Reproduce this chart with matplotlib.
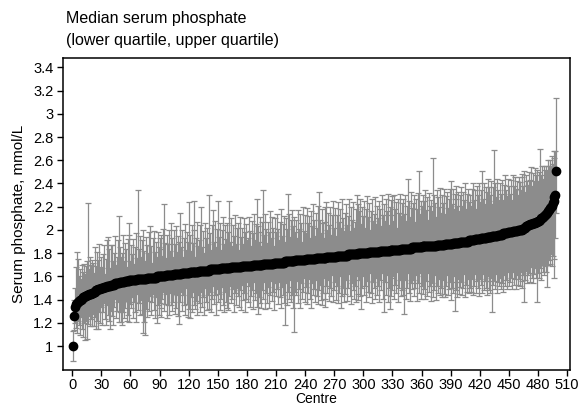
import matplotlib
matplotlib.use("Agg")
import matplotlib.pyplot as plt
import numpy as np

# median serum phosphate for each centre, sorted low to high (mmol/L)
median = ([1.00, 1.26, 1.34, 1.36, 1.37, 1.38, 1.39, 1.40, 1.40, 1.41,
           1.42, 1.42, 1.43, 1.43, 1.44, 1.44, 1.45, 1.45, 1.45, 1.46,
           1.46, 1.47, 1.47, 1.48, 1.48, 1.48, 1.49, 1.49, 1.49, 1.50,
           1.50, 1.50, 1.51, 1.51, 1.51, 1.52, 1.52, 1.52, 1.52, 1.53,
           1.53, 1.53, 1.53, 1.54, 1.54, 1.54, 1.54, 1.54, 1.55, 1.55,
           1.55, 1.55, 1.55, 1.56, 1.56, 1.56, 1.56, 1.56, 1.57, 1.57]
          + [1.57] * 6 + [1.58] * 10 + [1.59] * 10 + [1.60] * 10
          + [1.61] * 8 + [1.62] * 8 + [1.63] * 8
          + [1.64] * 10 + [1.65] * 11 + [1.66] * 11 + [1.67] * 11
          + [1.68] * 11 + [1.69] * 11 + [1.70] * 11 + [1.71] * 11
          + [1.72] * 11 + [1.73] * 11 + [1.74] * 11 + [1.75] * 10
          + [1.76] * 11 + [1.77] * 11 + [1.78] * 11 + [1.79] * 11
          + [1.80] * 11 + [1.81] * 11 + [1.82] * 11 + [1.83] * 11
          + [1.84] * 11 + [1.85] * 11 + [1.86] * 15
          + [1.87] * 8 + [1.88] * 8 + [1.89] * 8 + [1.90] * 9
          + [1.91] * 6 + [1.92] * 6 + [1.93] * 6 + [1.94] * 6
          + [1.95] * 6 + [1.96] * 5
          + [1.97] * 5 + [1.98] * 5 + [1.99] * 5 + [2.00] * 5
          + [2.01, 2.01, 2.02, 2.02, 2.03, 2.03, 2.04, 2.04, 2.05, 2.05,
             2.05, 2.06, 2.06, 2.06, 2.07, 2.07, 2.08, 2.08, 2.09, 2.10,
             2.10, 2.11, 2.12, 2.13, 2.14, 2.15, 2.16, 2.17, 2.19, 2.20,
             2.21, 2.23, 2.25, 2.28, 2.30, 2.51])

# distance from median up to the upper quartile
above = [
    0.13, 0.14, 0.16, 0.32, 0.44, 0.37, 0.21, 0.26, 0.18, 0.29,
    0.22, 0.29, 0.19, 0.26, 0.29, 0.79, 0.21, 0.32, 0.25, 0.28,
    0.26, 0.16, 0.38, 0.21, 0.13, 0.33, 0.25, 0.39, 0.19, 0.27,
    0.17, 0.29, 0.36, 0.11, 0.24, 0.39, 0.42, 0.32, 0.15, 0.34,
    0.34, 0.20, 0.27, 0.41, 0.16, 0.23, 0.37, 0.58, 0.30, 0.22,
    0.25, 0.41, 0.18, 0.33, 0.28, 0.12, 0.36, 0.50, 0.39, 0.16,
    0.30, 0.22, 0.35, 0.14, 0.28, 0.40, 0.18, 0.76, 0.26, 0.37,
    0.19, 0.33, 0.42, 0.24, 0.15, 0.36, 0.28, 0.21, 0.39, 0.44,
    0.27, 0.13, 0.34, 0.40, 0.22, 0.31, 0.17, 0.38, 0.25, 0.33,
    0.36, 0.24, 0.18, 0.41, 0.62, 0.29, 0.15, 0.35, 0.27, 0.39,
    0.21, 0.45, 0.32, 0.16, 0.38, 0.26, 0.41, 0.19, 0.33, 0.28,
    0.53, 0.23, 0.37, 0.14, 0.30, 0.42, 0.20, 0.35, 0.27, 0.61,
    0.32, 0.18, 0.40, 0.25, 0.61, 0.36, 0.13, 0.29, 0.43, 0.22,
    0.26, 0.39, 0.55, 0.20, 0.34, 0.15, 0.41, 0.28, 0.37, 0.23,
    0.65, 0.31, 0.17, 0.38, 0.51, 0.24, 0.42, 0.19, 0.35, 0.59,
    0.28, 0.40, 0.16, 0.33, 0.44, 0.21, 0.37, 0.25, 0.14, 0.39,
    0.31, 0.58, 0.23, 0.42, 0.18, 0.36, 0.27, 0.45, 0.20, 0.34,
    0.38, 0.15, 0.43, 0.26, 0.33, 0.19, 0.41, 0.29, 0.36, 0.22,
    0.24, 0.42, 0.30, 0.17, 0.39, 0.27, 0.44, 0.21, 0.35, 0.57,
    0.33, 0.20, 0.41, 0.28, 0.16, 0.37, 0.63, 0.25, 0.43, 0.30,
    0.18, 0.36, 0.27, 0.45, 0.22, 0.40, 0.31, 0.14, 0.38, 0.26,
    0.42, 0.29, 0.19, 0.35, 0.46, 0.23, 0.33, 0.40, 0.17, 0.37,
    0.28, 0.58, 0.41, 0.21, 0.36, 0.15, 0.44, 0.30, 0.38, 0.24,
    0.35, 0.19, 0.43, 0.27, 0.40, 0.32, 0.16, 0.46, 0.25, 0.39,
    0.22, 0.44, 0.31, 0.37, 0.18, 0.41, 0.28, 0.47, 0.34, 0.20,
    0.39, 0.26, 0.45, 0.57, 0.33, 0.21, 0.42, 0.30, 0.17, 0.44,
    0.31, 0.47, 0.23, 0.38, 0.27, 0.43, 0.19, 0.36, 0.48, 0.25,
    0.42, 0.18, 0.35, 0.46, 0.29, 0.40, 0.24, 0.49, 0.32, 0.21,
    0.37, 0.44, 0.26, 0.33, 0.48, 0.20, 0.41, 0.30, 0.45, 0.23,
    0.28, 0.39, 0.51, 0.43, 0.17, 0.36, 0.47, 0.25, 0.40, 0.32,
    0.45, 0.22, 0.38, 0.49, 0.31, 0.42, 0.19, 0.35, 0.46, 0.27,
    0.33, 0.47, 0.24, 0.40, 0.29, 0.44, 0.36, 0.21, 0.48, 0.31,
    0.40, 0.26, 0.45, 0.34, 0.49, 0.22, 0.38, 0.43, 0.30, 0.46,
    0.25, 0.47, 0.35, 0.41, 0.19, 0.44, 0.32, 0.48, 0.28, 0.39,
    0.43, 0.30, 0.46, 0.24, 0.37, 0.60, 0.41, 0.27, 0.49, 0.34,
    0.38, 0.45, 0.22, 0.42, 0.33, 0.47, 0.66, 0.29, 0.40, 0.36,
    0.44, 0.27, 0.39, 0.48, 0.31, 0.42, 0.23, 0.46, 0.35, 0.40,
    0.30, 0.76, 0.44, 0.37, 0.25, 0.47, 0.41, 0.33, 0.49, 0.28,
    0.43, 0.36, 0.48, 0.26, 0.41, 0.45, 0.31, 0.39, 0.47, 0.54,
    0.34, 0.46, 0.29, 0.42, 0.38, 0.49, 0.32, 0.44, 0.27, 0.40,
    0.47, 0.31, 0.43, 0.36, 0.50, 0.28, 0.41, 0.45, 0.33, 0.39,
    0.30, 0.44, 0.49, 0.35, 0.42, 0.26, 0.46, 0.38, 0.48, 0.32,
    0.41, 0.58, 0.34, 0.47, 0.29, 0.44, 0.39, 0.50, 0.31, 0.43,
    0.36, 0.48, 0.27, 0.42, 0.74, 0.45, 0.33, 0.49, 0.38, 0.30,
    0.44, 0.35, 0.47, 0.29, 0.42, 0.50, 0.37, 0.32, 0.46, 0.40,
    0.33, 0.45, 0.28, 0.48, 0.39, 0.47, 0.36, 0.43, 0.30, 0.46,
    0.41, 0.34, 0.46, 0.47, 0.37, 0.49, 0.31, 0.44, 0.39, 0.35,
    0.46, 0.38, 0.49, 0.33, 0.43, 0.36, 0.47, 0.40, 0.45, 0.34,
    0.42, 0.61, 0.37, 0.45, 0.33, 0.43, 0.39, 0.41, 0.36, 0.44,
    0.38, 0.41, 0.35, 0.43, 0.34, 0.43, 0.34, 0.38, 0.63,
]

# distance from median down to the lower quartile
below = [
    0.13, 0.12, 0.14, 0.20, 0.26, 0.16, 0.21, 0.30, 0.15, 0.26,
    0.34, 0.22, 0.38, 0.21, 0.38, 0.25, 0.19, 0.28, 0.22, 0.29,
    0.18, 0.30, 0.22, 0.33, 0.14, 0.26, 0.34, 0.20, 0.29, 0.16,
    0.32, 0.21, 0.14, 0.28, 0.33, 0.17, 0.25, 0.30, 0.37, 0.23,
    0.27, 0.35, 0.19, 0.13, 0.30, 0.24, 0.16, 0.33, 0.26, 0.34,
    0.37, 0.26, 0.31, 0.23, 0.17, 0.34, 0.29, 0.18, 0.36, 0.21,
    0.24, 0.15, 0.33, 0.19, 0.28, 0.36, 0.13, 0.27, 0.21, 0.31,
    0.18, 0.30, 0.47, 0.37, 0.48, 0.26, 0.34, 0.20, 0.29, 0.16,
    0.32, 0.21, 0.14, 0.28, 0.35, 0.17, 0.40, 0.25, 0.33, 0.23,
    0.27, 0.35, 0.19, 0.13, 0.30, 0.24, 0.16, 0.37, 0.26, 0.34,
    0.15, 0.26, 0.31, 0.23, 0.17, 0.34, 0.29, 0.18, 0.36, 0.43,
    0.24, 0.15, 0.33, 0.19, 0.28, 0.36, 0.13, 0.27, 0.38, 0.31,
    0.40, 0.22, 0.35, 0.17, 0.29, 0.14, 0.32, 0.25, 0.37, 0.20,
    0.28, 0.36, 0.18, 0.31, 0.23, 0.38, 0.15, 0.27, 0.34, 0.21,
    0.33, 0.19, 0.37, 0.25, 0.14, 0.30, 0.22, 0.39, 0.17, 0.28,
    0.21, 0.35, 0.26, 0.16, 0.32, 0.38, 0.20, 0.29, 0.13, 0.34,
    0.36, 0.24, 0.15, 0.31, 0.27, 0.19, 0.39, 0.22, 0.33, 0.18,
    0.25, 0.34, 0.20, 0.37, 0.16, 0.29, 0.23, 0.40, 0.28, 0.14,
    0.31, 0.17, 0.35, 0.26, 0.21, 0.38, 0.15, 0.30, 0.24, 0.36,
    0.42, 0.28, 0.19, 0.33, 0.37, 0.22, 0.30, 0.16, 0.39, 0.25,
    0.34, 0.20, 0.38, 0.27, 0.15, 0.32, 0.24, 0.41, 0.18, 0.29,
    0.23, 0.36, 0.17, 0.30, 0.39, 0.21, 0.28, 0.35, 0.55, 0.19,
    0.38, 0.26, 0.32, 0.16, 0.35, 0.29, 0.22, 0.40, 0.61, 0.27,
    0.30, 0.18, 0.37, 0.25, 0.41, 0.20, 0.33, 0.27, 0.15, 0.36,
    0.24, 0.39, 0.29, 0.17, 0.34, 0.42, 0.21, 0.31, 0.26, 0.37,
    0.19, 0.33, 0.40, 0.28, 0.23, 0.36, 0.41, 0.30, 0.17, 0.35,
    0.42, 0.25, 0.31, 0.20, 0.38, 0.27, 0.34, 0.16, 0.39, 0.29,
    0.22, 0.37, 0.26, 0.41, 0.32, 0.18, 0.45, 0.35, 0.28, 0.40,
    0.33, 0.21, 0.39, 0.29, 0.17, 0.36, 0.43, 0.25, 0.31, 0.38,
    0.27, 0.41, 0.19, 0.34, 0.40, 0.23, 0.37, 0.48, 0.30, 0.20,
    0.36, 0.28, 0.42, 0.24, 0.33, 0.39, 0.18, 0.35, 0.44, 0.26,
    0.31, 0.40, 0.22, 0.37, 0.29, 0.43, 0.25, 0.34, 0.19, 0.41,
    0.53, 0.27, 0.38, 0.21, 0.44, 0.32, 0.50, 0.24, 0.40, 0.35,
    0.23, 0.42, 0.30, 0.37, 0.19, 0.45, 0.33, 0.26, 0.41, 0.36,
    0.40, 0.56, 0.27, 0.43, 0.34, 0.21, 0.38, 0.45, 0.30, 0.36,
    0.28, 0.42, 0.35, 0.24, 0.46, 0.31, 0.39, 0.22, 0.44, 0.33,
    0.41, 0.26, 0.37, 0.45, 0.30, 0.43, 0.23, 0.39, 0.34, 0.47,
    0.32, 0.44, 0.38, 0.25, 0.46, 0.35, 0.41, 0.29, 0.43, 0.37,
    0.45, 0.30, 0.42, 0.46, 0.36, 0.27, 0.44, 0.39, 0.33, 0.48,
    0.38, 0.43, 0.29, 0.59, 0.41, 0.34, 0.47, 0.31, 0.44, 0.39,
    0.35, 0.46, 0.40, 0.28, 0.48, 0.37, 0.43, 0.32, 0.45, 0.41,
    0.44, 0.33, 0.47, 0.39, 0.30, 0.46, 0.36, 0.42, 0.49, 0.34,
    0.40, 0.47, 0.31, 0.45, 0.37, 0.43, 0.50, 0.34, 0.46, 0.38,
    0.48, 0.35, 0.66, 0.42, 0.39, 0.46, 0.33, 0.49, 0.41, 0.44,
    0.37, 0.47, 0.42, 0.50, 0.36, 0.45, 0.40, 0.48, 0.34, 0.46,
    0.43, 0.39, 0.49, 0.35, 0.46, 0.41, 0.50, 0.38, 0.47, 0.42,
    0.48, 0.36, 0.44, 0.51, 0.40, 0.64, 0.45, 0.38, 0.49, 0.43,
    0.41, 0.50, 0.37, 0.46, 0.52, 0.44, 0.39, 0.48, 0.69, 0.45,
    0.49, 0.42, 0.53, 0.40, 0.47, 0.51, 0.44, 0.50, 0.64, 0.46,
    0.43, 0.48, 0.41, 0.52, 0.45, 0.50, 0.69, 0.37, 0.36,
]

ytick_vals = [1.0, 1.2, 1.4, 1.6, 1.8, 2.0, 2.2, 2.4, 2.6, 2.8, 3.0, 3.2, 3.4]
ytick_labels = ["1", "1.2", "1.4", "1.6", "1.8", "2", "2.2", "2.4", "2.6",
                "2.8", "3", "3.2", "3.4"]
xtick_vals = list(range(0, 511, 30))

plt.rcParams["font.family"] = ["Liberation Sans", "DejaVu Sans"]

centre = np.arange(1, len(median) + 1)

fig = plt.figure(figsize=(5.81, 4.09), dpi=100)
# bottom nudged up a few px so the x label fits under the tick labels
ax = fig.add_axes([0.1076, 0.0954, 0.8735, 0.7628])

# quartile bars first, medians on top
ax.errorbar(centre, median, yerr=[below, above], fmt="none",
            ecolor="#8c8c8c", elinewidth=0.9, capsize=2.5, capthick=0.9,
            zorder=1)
ax.plot(centre, median, "o", color="black", markersize=6, zorder=3)

ax.set_xlim(-10, 513)
ax.set_ylim(0.795, 3.48)
ax.set_xticks(xtick_vals)
ax.set_yticks(ytick_vals)
ax.set_yticklabels(ytick_labels)
ax.tick_params(direction="out", length=4.5, width=1, labelsize=10.5, colors="black")
ax.tick_params(axis="y", pad=2)
ax.tick_params(axis="x", pad=1.5)
for s in ax.spines.values():
    s.set_linewidth(1.1)

ax.set_xlabel("Centre", fontsize=10, labelpad=0)
ax.set_ylabel("Serum phosphate, mmol/L", fontsize=11, labelpad=5)

fig.text(0.114, 0.955, "Median serum phosphate", fontsize=11.5, va="center")
fig.text(0.114, 0.902, "(lower quartile, upper quartile)", fontsize=11.5, va="center")

fig.savefig("out.png", dpi=100)
